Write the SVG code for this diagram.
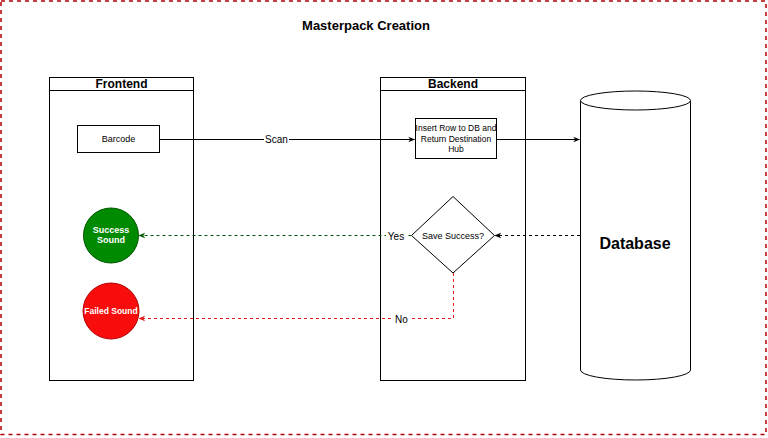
<svg xmlns="http://www.w3.org/2000/svg" width="768" height="438" viewBox="0 0 768 438">
<style>
text{font-family:"Liberation Sans",Arial,Helvetica,sans-serif;fill:#000}
.lane{fill:#fff;stroke:#000;stroke-width:1}
.box{fill:#fff;stroke:#000;stroke-width:1}
.t9{font-size:9px}
.t10{font-size:10px}
.b12{font-size:12px;font-weight:bold}
.lbl{font-size:10px}
.bg{fill:#fff}
</style>
<defs>
<marker id="ak" viewBox="0 0 10 10" refX="9" refY="5" markerWidth="7" markerHeight="7" orient="auto" markerUnits="userSpaceOnUse"><path d="M0,1 L10,5 L0,9 L3,5 Z" fill="#000"/></marker>
<marker id="ag" viewBox="0 0 10 10" refX="9" refY="5" markerWidth="7" markerHeight="7" orient="auto" markerUnits="userSpaceOnUse"><path d="M0,1 L10,5 L0,9 L3,5 Z" fill="#005700"/></marker>
<marker id="ar" viewBox="0 0 10 10" refX="9" refY="5" markerWidth="7" markerHeight="7" orient="auto" markerUnits="userSpaceOnUse"><path d="M0,1 L10,5 L0,9 L3,5 Z" fill="#e51c1c"/></marker>
</defs>
<rect x="0" y="0" width="768" height="438" fill="#fff"/>
<rect x="1" y="1" width="765" height="433.5" fill="none" stroke="#b20000" stroke-width="1.5" stroke-dasharray="4,4"/>
<text x="366" y="30" text-anchor="middle" class="b12" style="font-size:13px">Masterpack Creation</text>

<g id="frontend">
<rect class="lane" x="49.5" y="77.5" width="144" height="303"/>
<line x1="49.5" y1="90.5" x2="193.5" y2="90.5" stroke="#000"/>
<text x="121.5" y="88" text-anchor="middle" class="b12">Frontend</text>
</g>
<g id="backend">
<rect class="lane" x="380.5" y="77.5" width="145" height="303"/>
<line x1="380.5" y1="90.5" x2="525.5" y2="90.5" stroke="#000"/>
<text x="453" y="88" text-anchor="middle" class="b12">Backend</text>
</g>
<g id="database">
<path d="M580.5,100.5 L580.5,370 A55,10 0 0 0 690.5,370 L690.5,100.5" fill="#fff" stroke="#000"/>
<ellipse cx="635.5" cy="100.5" rx="55" ry="9.5" fill="#fff" stroke="#000"/>
<text x="635" y="249" text-anchor="middle" style="font-size:16px;font-weight:bold">Database</text>
</g>
<g id="barcode">
<rect class="box" x="77.5" y="125.5" width="82" height="27"/>
<text x="118.5" y="142" text-anchor="middle" class="t9">Barcode</text>
</g>
<g id="insert">
<rect class="box" x="415.5" y="118.5" width="81" height="40"/>
<text x="456" y="131" text-anchor="middle" style="font-size:8.5px">Insert Row to DB and</text>
<text x="456" y="141.5" text-anchor="middle" style="font-size:8.5px">Return Destination</text>
<text x="456" y="152" text-anchor="middle" style="font-size:8.5px">Hub</text>
</g>
<g id="decision">
<path d="M453,196.5 L494.5,235.5 L453,273 L411.5,235.5 Z" fill="#fff" stroke="#000"/>
<text x="453" y="239" text-anchor="middle" class="t9">Save Success?</text>
</g>
<g id="success">
<circle cx="111" cy="235.5" r="27.5" fill="#008a00" stroke="#005700"/>
<text x="111" y="233" text-anchor="middle" class="t9" style="fill:#fff;font-weight:bold">Success</text>
<text x="111" y="243" text-anchor="middle" class="t9" style="fill:#fff;font-weight:bold">Sound</text>
</g>
<g id="failed">
<circle cx="111" cy="311" r="28" fill="#f80c0c" stroke="#b20000"/>
<text x="111" y="313.5" text-anchor="middle" style="font-size:8.5px;fill:#fff;font-weight:bold">Failed Sound</text>
</g>

<g id="connectors">
<line x1="159.5" y1="139.5" x2="414.5" y2="139.5" stroke="#000" marker-end="url(#ak)"/>
<rect class="bg" x="264" y="134" width="25" height="11"/>
<text x="276.5" y="143" text-anchor="middle" class="lbl">Scan</text>
<line x1="496.5" y1="139.5" x2="579.5" y2="139.5" stroke="#000" marker-end="url(#ak)"/>
<line x1="580" y1="235.5" x2="495" y2="235.5" stroke="#000" stroke-dasharray="3,3" marker-end="url(#ak)"/>
<line x1="411.5" y1="235.5" x2="139" y2="235.5" stroke="#005700" stroke-dasharray="3,3" marker-end="url(#ag)"/>
<rect class="bg" x="386" y="230" width="20" height="11"/>
<text x="396" y="239.5" text-anchor="middle" class="lbl">Yes</text>
<path d="M453.5,273 L453.5,318.5 L139,318.5" fill="none" stroke="#e51c1c" stroke-dasharray="3,3" marker-end="url(#ar)"/>
<rect class="bg" x="393" y="313" width="17" height="11"/>
<text x="401.5" y="322.5" text-anchor="middle" class="lbl">No</text>
</g>
</svg>
